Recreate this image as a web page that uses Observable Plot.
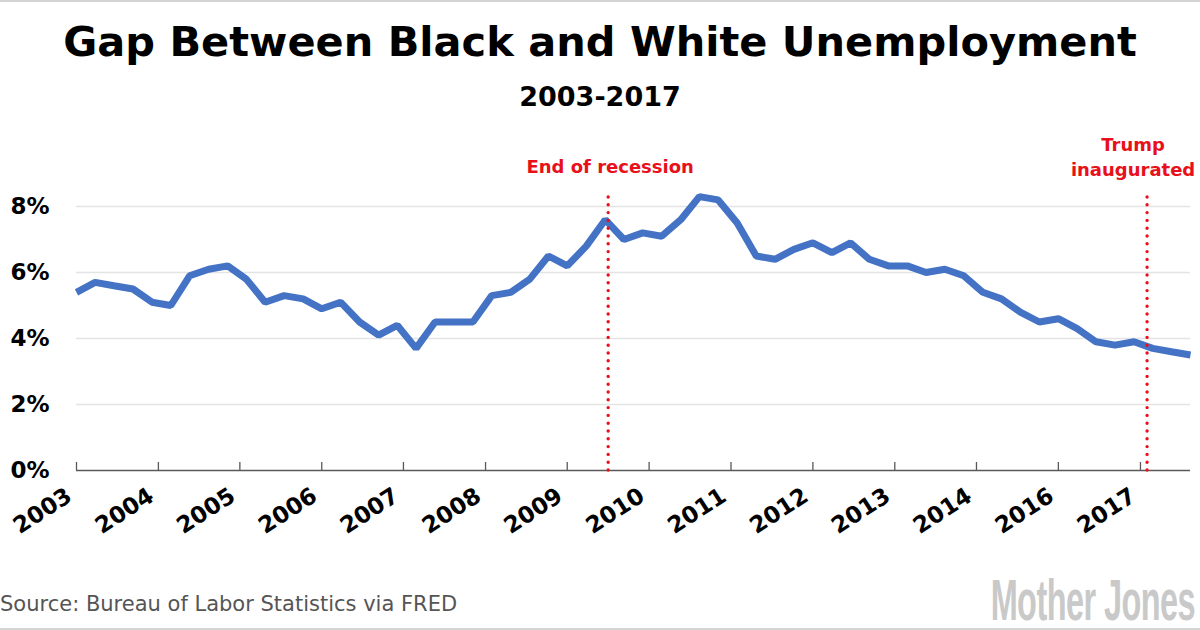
<!DOCTYPE html>
<html>
<head>
<meta charset="utf-8">
<script src="https://cdn.jsdelivr.net/npm/d3@7"></script>
<script src="https://cdn.jsdelivr.net/npm/@observablehq/plot@0.6"></script>
<style>
  html, body { margin: 0; padding: 0; background: #fff; }
  body { width: 1200px; height: 630px; overflow: hidden; position: relative; font-family: "DejaVu Sans", sans-serif; }
  .rule { height: 2px; background: #d4d4d4; }
  #title { height: 80px; line-height: 80px; font-size: 41.5px; font-weight: bold; text-align: center; color: #000; white-space: nowrap; }
  #subtitle { height: 30px; line-height: 30px; font-size: 27px; font-weight: bold; text-align: center; color: #000; }
  #chart { height: 468px; }
  #caption { position: relative; height: 48px; }
  #source { position: absolute; left: 0; top: 14px; font-size: 21px; line-height: 1; color: #555; white-space: nowrap; }
  #logo { position: absolute; right: 5px; top: -9px; font-family: "Liberation Sans Narrow", "Liberation Sans", sans-serif; font-weight: bold; font-size: 58px; line-height: 1; color: #c9c9c9; white-space: nowrap; transform: scaleX(0.56); transform-origin: right center; letter-spacing: -1px; }
</style>
</head>
<body>
<div class="rule"></div>
<div id="title">Gap Between Black and White Unemployment</div>
<div id="subtitle">2003-2017</div>
<div id="chart"></div>
<div id="caption">
  <span id="source">Source: Bureau of Labor Statistics via FRED</span>
  <span id="logo">Mother Jones</span>
</div>
<div class="rule"></div>
<script>
// Quarterly gap (Black minus White unemployment rate, percentage points), from 2003 Q1
const startDate = "2003-01-01";
const gapValues = [
  5.4, 5.7, 5.6, 5.5, 5.1, 5.0, 5.9, 6.1, 6.2, 5.8,
  5.1, 5.3, 5.2, 4.9, 5.1, 4.5, 4.1, 4.4, 3.7, 4.5,
  4.5, 4.5, 5.3, 5.4, 5.8, 6.5, 6.2, 6.8, 7.6, 7.0,
  7.2, 7.1, 7.6, 8.3, 8.2, 7.5, 6.5, 6.4, 6.7, 6.9,
  6.6, 6.9, 6.4, 6.2, 6.2, 6.0, 6.1, 5.9, 5.4, 5.2,
  4.8, 4.5, 4.6, 4.3, 3.9, 3.8, 3.9, 3.7, 3.6, 3.5
];
// x-axis ticks (one every 13 months, as in the original) and their labels
const tickDates = ["2003-01-01","2004-02-01","2005-03-01","2006-04-01","2007-05-01","2008-06-01","2009-07-01",
                   "2010-08-01","2011-09-01","2012-10-01","2013-11-01","2014-12-01","2016-01-01","2017-02-01"];
const tickLabels = ["2003","2004","2005","2006","2007","2008","2009","2010","2011","2012","2013","2014","2016","2017"];
const yTicks = [0, 2, 4, 6, 8];
const gridValues = [2, 4, 6, 8];
// annotations
const eventDates = ["2010-01-15", "2017-03-05"];
const eventLabels = ["End of recession", "Trump\ninaugurated"];
const eventLineTop = 8.33;
const eventLabelY = [9.18, 9.56];

const start = new Date(startDate);
const data = gapValues.map((v, i) => ({date: d3.utcMonth.offset(start, 3 * i), value: v}));
const ticks = tickDates.map(d => new Date(d));
const labelByTime = new Map(ticks.map((d, i) => [+d, tickLabels[i]]));
const events = eventDates.map((d, i) => ({date: new Date(d), label: eventLabels[i], y: eventLabelY[i]}));

const red = "#e8101a";
const plot = Plot.plot({
  width: 1200,
  height: 468,
  marginLeft: 76,
  marginRight: 10,
  marginTop: 61,
  marginBottom: 110,
  style: {fontFamily: "DejaVu Sans", background: "transparent", color: "#000", overflow: "visible"},
  x: {type: "utc", domain: [data[0].date, data[data.length - 1].date]},
  y: {domain: [0, 9]},
  marks: [
    Plot.ruleY(gridValues, {stroke: "#e4e4e4", strokeWidth: 1.3}),
    Plot.ruleY([0], {stroke: "#595959", strokeWidth: 1.5}),
    Plot.ruleX(ticks, {x: d => d, y1: 0, y2: 0, insetBottom: 8, stroke: "#595959", strokeWidth: 1.3}),
    Plot.line(data, {x: "date", y: "value", stroke: "#4472C4", strokeWidth: 7, strokeLinejoin: "miter", strokeLinecap: "butt"}),
    Plot.ruleX(events, {x: "date", y1: 0, y2: eventLineTop, stroke: red, strokeWidth: 3.4, strokeDasharray: "0,7.8", strokeLinecap: "round"}),
    Plot.text(events.slice(0, 1), {x: "date", y: "y", text: "label", fill: red, fontSize: 18, fontWeight: "bold", dx: 2}),
    Plot.text(events.slice(1), {x: "date", y: "y", text: "label", fill: red, fontSize: 18, fontWeight: "bold", lineHeight: 1.39, dx: -14}),
    Plot.axisY({ticks: yTicks, tickFormat: d => `${d}%`, tickSize: 0, tickPadding: 27, fontSize: 23, fontWeight: "bold"}),
    Plot.axisX({ticks: ticks, tickFormat: d => labelByTime.get(+d), tickSize: 0, tickPadding: 23, tickRotate: -33, fontSize: 23, fontWeight: "bold", dx: -7})
  ]
});
document.getElementById("chart").appendChild(plot);
</script>
</body>
</html>
